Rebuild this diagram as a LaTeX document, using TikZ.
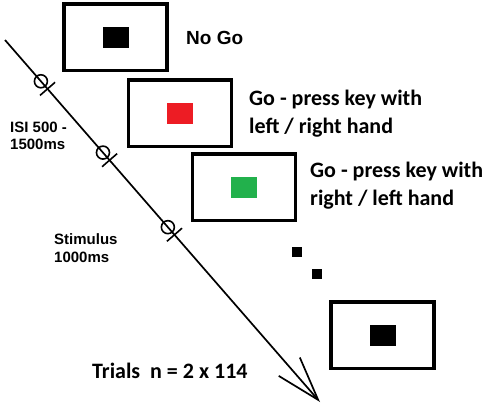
\documentclass[tikz,border=0pt]{standalone}
\usepackage{fontspec}
\setmainfont{Liberation Sans}
\newfontfamily\calibfont{Carlito}
\usetikzlibrary{arrows.meta,calc}

\definecolor{cuered}{HTML}{ED1C24}
\definecolor{cuegreen}{HTML}{22B14C}

\tikzset{
 screen/.style={draw=black, line width=3.5pt, fill=white, minimum width=103pt, minimum height=66.5pt, inner sep=0pt},
 cue/.style={fill=#1, minimum width=26pt, minimum height=21pt, inner sep=0pt},
 dotsq/.style={fill=black, minimum size=10pt, inner sep=0pt},
 arialtxt/.style={font=\bfseries\fontsize{15}{16.5}\selectfont, align=left, anchor=base west, inner sep=0pt},
 calibtxt/.style={font=\calibfont\bfseries\fontsize{22}{27.5}\selectfont, align=left, anchor=base west, inner sep=0pt},
 timemark/.style={line width=1.6pt}
}

\begin{document}
\begin{tikzpicture}[x=1pt,y=-1pt]
	\useasboundingbox (0,0) rectangle (489,408);
	%\draw[help lines, step=50] (0,0) grid (489,408);

	% time line
	\coordinate (start) at (5,40);
	\coordinate (finish) at (320,402);
	\draw[line width=1.7pt, -{Straight Barb[length=44pt, width=28pt, line width=1.7pt]}] (start) -- (finish);

	\foreach \t in {0.114,0.311,0.517}{
		\draw[timemark] ($(start)!\t!(finish)$) circle (6.5pt);
		\coordinate (tick) at ($(start)!{\t+0.021}!(finish)$);
		\draw[timemark] ($(tick)!10pt!90:(finish)$) -- ($(tick)!10pt!-90:(finish)$);
	}

	% screens
	\node[screen] (nogo) at (115.5,37) {};
	\node[cue=black] at (nogo.center) {};
	\node[screen] (goleft) at (180,113) {};
	\node[cue=cuered] at (goleft.center) {};
	\node[screen] (goright) at (244,187) {};
	\node[cue=cuegreen] at (goright.center) {};
	\node[screen] (last) at (382.5,335) {};
	\node[cue=black] at (last.center) {};

	\node[dotsq] (dotA) at (297,252) {};
	\node[dotsq] (dotB) at (317,274) {};

	% labels (base = last line)
	\node[arialtxt, font=\bfseries\fontsize{19}{20}\selectfont] (nogotxt) at (186,44) {No Go};
	\node[calibtxt] (golefttxt) at (249,133) {Go - press key with\\left / right hand};
	\node[calibtxt] (gorighttxt) at (310,205) {Go - press key with\\right / left hand};
	\node[arialtxt] (isitxt) at (10,149) {ISI 500 -\\1500ms};
	\node[arialtxt, font=\bfseries\fontsize{15}{18}\selectfont] (stimtxt) at (54,262) {Stimulus\\1000ms};
	\node[calibtxt] (trialtxt) at (92,378) {Trials~ n = 2 x 114};
\end{tikzpicture}
\end{document}
